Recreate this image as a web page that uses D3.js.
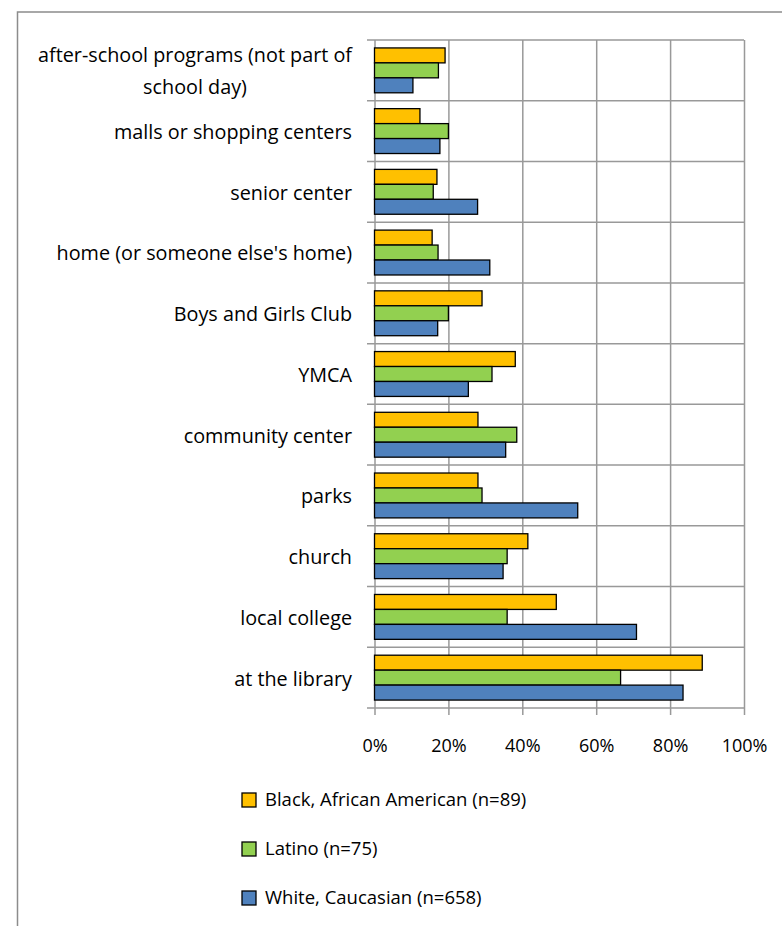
<!DOCTYPE html>
<html>
<head>
<meta charset="utf-8">
<script src="https://cdn.jsdelivr.net/npm/d3@7"></script>
<style>
  body { margin: 0; background: #fff; }
  svg { display: block; font-family: "Open Sans", sans-serif; }
</style>
</head>
<body>
<svg id="chart" width="782" height="926"></svg>
<script>
/* Where seniors go, by race/ethnicity - grouped horizontal bars */
const categories = [
  'after-school programs (not part of\nschool day)',
  'malls or shopping centers',
  'senior center',
  "home (or someone else's home)",
  'Boys and Girls Club',
  'YMCA',
  'community center',
  'parks',
  'church',
  'local college',
  'at the library'
]
const series = ['Black, African American (n=89)', 'Latino (n=75)', 'White, Caucasian (n=658)']
const black = [19.1, 12.3, 16.9, 15.6, 29.1, 38.1, 28.0, 28.0, 41.5, 49.2, 88.7]
const latino = [17.3, 20.0, 15.9, 17.2, 20.0, 31.8, 38.5, 29.1, 35.9, 35.9, 66.6]
const white = [10.4, 17.7, 27.9, 31.2, 17.1, 25.4, 35.5, 55.0, 34.8, 70.9, 83.5]
const ticks = [0, 20, 40, 60, 80, 100]
const colors = ['#FFC000', '#92D050', '#4F81BD']

const values = [black, latino, white]
const rows = categories.map((c, i) => ({ cat: c, vals: values.map(v => v[i]) }))

const plot = { left: 374.5, right: 744, top: 40, bottom: 708 }
const gridColor = '#999'

const svg = d3.select('#chart')

// outer chart border (runs off the page at right / bottom)
svg.append('rect')
  .attr('x', 17.5).attr('y', 12)
  .attr('width', 800).attr('height', 950)
  .attr('fill', 'none')
  .attr('stroke', '#8c8c8c')
  .attr('stroke-width', 1.5)

const x = d3.scaleLinear()
  .domain([0, 100])
  .range([plot.left, plot.right])

const y = d3.scaleBand()
  .domain(categories)
  .range([plot.top, plot.bottom])

const ySub = d3.scaleBand()
  .domain(series)
  .range([0, y.bandwidth()])
  .paddingOuter(0.53)

// vertical gridlines + x axis labels
const xAxis = d3.axisBottom(x)
  .tickValues(ticks)
  .tickFormat(d => d + '%')
  .tickSizeOuter(0)

const gx = svg.append('g')
  .attr('transform', `translate(0,${plot.bottom})`)
  .call(xAxis)
gx.select('.domain').remove()
gx.selectAll('.tick line')
  .attr('y1', 7)
  .attr('y2', plot.top - plot.bottom)
  .attr('stroke', gridColor)
  .attr('stroke-width', 1.5)
gx.selectAll('.tick text')
  .attr('y', 44)
  .attr('dy', 0)
  .attr('fill', '#000')
  .style('font-size', '18px')
  .style('font-family', '"Open Sans", sans-serif')

// horizontal gridlines at category boundaries
const bounds = d3.range(categories.length + 1).map(i => plot.top + i * y.step())
svg.append('g')
  .selectAll('line')
  .data(bounds)
  .enter()
  .append('line')
  .attr('x1', plot.left - 7.5)
  .attr('x2', plot.right)
  .attr('y1', d => d)
  .attr('y2', d => d)
  .attr('stroke', gridColor)
  .attr('stroke-width', 1.5)

// bars
const group = svg.append('g')
  .selectAll('g')
  .data(rows)
  .enter()
  .append('g')
  .attr('transform', d => `translate(0,${y(d.cat)})`)

group.selectAll('rect')
  .data(d => d.vals.map((v, i) => ({ s: series[i], v: v, i: i })))
  .enter()
  .append('rect')
  .attr('x', x(0))
  .attr('y', d => ySub(d.s))
  .attr('width', d => x(d.v) - x(0))
  .attr('height', ySub.bandwidth())
  .attr('fill', d => colors[d.i])
  .attr('stroke', '#000')
  .attr('stroke-width', 1.3)

// category labels, right aligned, multi-line centered
const labels = svg.append('g')
  .selectAll('text')
  .data(categories)
  .enter()
  .append('text')
  .attr('text-anchor', 'middle')
  .style('font-size', '19.8px')
  .attr('fill', '#000')

labels.each(function (d) {
  const lines = d.split('\n')
  const t = d3.select(this)
  const cy = y(d) + y.bandwidth() / 2
  const lineH = 32
  lines.forEach((ln, k) => {
    t.append('tspan')
      .attr('y', cy + (k - (lines.length - 1) / 2) * lineH + 1)
      .attr('dy', '0.35em')
      .text(ln)
  })
  // right-align the block at x=352, lines centred on each other
  const w = d3.max(t.selectAll('tspan').nodes(), n => n.getComputedTextLength())
  t.selectAll('tspan').attr('x', 352 - w / 2)
})

// legend
const legend = svg.append('g')
  .selectAll('g')
  .data(series)
  .enter()
  .append('g')
  .attr('transform', (d, i) => `translate(242,${793 + i * 49})`)

legend.append('rect')
  .attr('width', 14)
  .attr('height', 14)
  .attr('fill', (d, i) => colors[i])
  .attr('stroke', '#000')
  .attr('stroke-width', 1.3)

legend.append('text')
  .attr('x', 23)
  .attr('y', 7)
  .attr('dy', '0.35em')
  .style('font-size', '18.5px')
  .text(d => d)
</script>
</body>
</html>
